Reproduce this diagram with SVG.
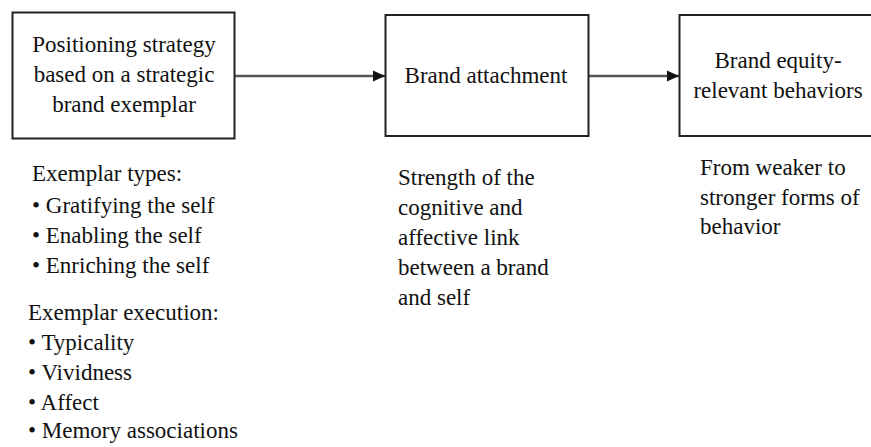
<svg xmlns="http://www.w3.org/2000/svg" width="871" height="447" viewBox="0 0 871 447">
  <style>
    .box { fill: #ffffff; stroke: #222222; stroke-width: 2; }
    .mid { text-anchor: middle; }
    .edge { stroke: #555555; stroke-width: 2.5; fill: none; }
  </style>
  <defs>
    <marker id="arrow" markerUnits="userSpaceOnUse" markerWidth="12" markerHeight="12" refX="12" refY="6" orient="auto">
      <path d="M0,0.5 L12,6 L0,11.5 Z" fill="#111111"/>
    </marker>
  </defs>
  <rect width="871" height="447" fill="#ffffff"/>

  <g id="connectors">
    <line class="edge" x1="235" y1="76" x2="385" y2="76" marker-end="url(#arrow)"/>
    <line class="edge" x1="589" y1="76" x2="679" y2="76" marker-end="url(#arrow)"/>
  </g>

  <g font-family="Liberation Serif, DejaVu Serif, serif" font-size="23" fill="#111111">
    <g id="positioning">
      <rect class="box" x="12.5" y="12.5" width="222" height="126"/>
      <text class="mid" x="124" y="52">Positioning strategy</text>
      <text class="mid" x="124" y="82">based on a strategic</text>
      <text class="mid" x="124" y="112">brand exemplar</text>
    </g>

    <g id="attachment">
      <rect class="box" x="385.5" y="15" width="203" height="121"/>
      <text class="mid" x="486" y="83">Brand attachment</text>
    </g>

    <g id="behaviors">
      <rect class="box" x="679.5" y="15" width="200" height="121"/>
      <text class="mid" x="778" y="68">Brand equity-</text>
      <text class="mid" x="778" y="98">relevant behaviors</text>
    </g>

    <g id="exemplar-notes">
      <text x="32" y="181">Exemplar types:</text>
      <text x="32" y="213">• Gratifying the self</text>
      <text x="32" y="243">• Enabling the self</text>
      <text x="32" y="273">• Enriching the self</text>
      <text x="28" y="320">Exemplar execution:</text>
      <text x="28" y="350">• Typicality</text>
      <text x="28" y="380">• Vividness</text>
      <text x="28" y="410">• Affect</text>
      <text x="28" y="438">• Memory associations</text>
    </g>

    <g id="attachment-notes">
      <text x="398" y="185">Strength of the</text>
      <text x="398" y="215">cognitive and</text>
      <text x="398" y="245">affective link</text>
      <text x="398" y="275">between a brand</text>
      <text x="398" y="305">and self</text>
    </g>

    <g id="behavior-notes">
      <text x="700" y="175">From weaker to</text>
      <text x="700" y="205">stronger forms of</text>
      <text x="700" y="234">behavior</text>
    </g>
  </g>
</svg>
